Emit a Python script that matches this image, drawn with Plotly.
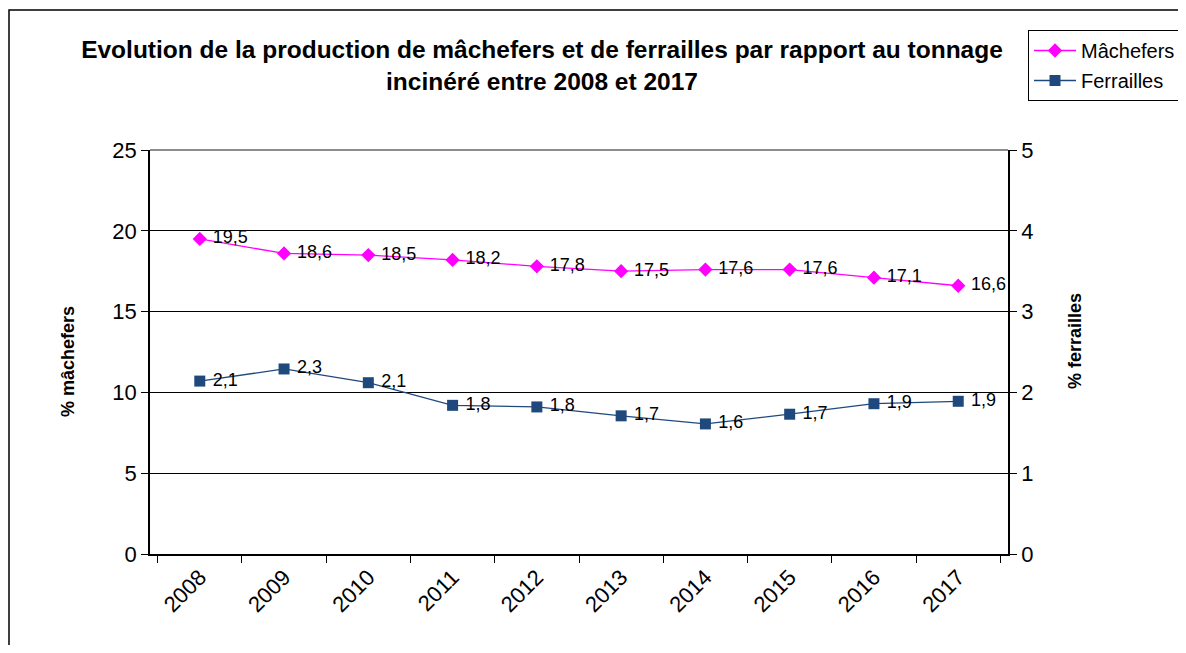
import plotly.graph_objects as go

years = ["2008", "2009", "2010", "2011", "2012", "2013", "2014", "2015", "2016", "2017"]
machefers = [19.5, 18.6, 18.5, 18.2, 17.8, 17.5, 17.6, 17.6, 17.1, 16.6]
ferrailles = [2.14, 2.29, 2.12, 1.84, 1.82, 1.71, 1.61, 1.73, 1.86, 1.89]

def fr(v):
    return "\u00a0" + f"{v:.1f}".replace(".", ",")

PAGE_W, PAGE_H = 1186, 653
OFF = 8  # default page body margin
W, H = PAGE_W - 2 * OFF, PAGE_H - 2 * OFF
# target plot area in page pixels: x 150..1008, y 150..554
L = 150 - OFF
T = 150 - OFF
R = W - (1008 - OFF)
B = H - (554 - OFF)
pw, ph = W - L - R, H - T - B

def px_x(x):
    return (x - OFF - L) / pw

def px_y(y):
    return (H - B - (y - OFF)) / ph

FONT = "Liberation Sans, Arial, sans-serif"

fig = go.Figure()
fig.add_trace(go.Scatter(
    x=years, y=machefers, name="Mâchefers", mode="lines+markers+text",
    legendgroup="a",
    line=dict(color="#FF00FF", width=1.3),
    marker=dict(symbol="diamond", size=11, color="#FF00FF"),
    text=[fr(v) for v in machefers], textposition="middle right",
    textfont=dict(size=18, color="black", family=FONT),
    yaxis="y", cliponaxis=False,
))
fig.add_trace(go.Scatter(
    x=years, y=ferrailles, name="Ferrailles", mode="lines+markers+text",
    legendgroup="b",
    line=dict(color="#1F497D", width=1.3),
    marker=dict(symbol="square", size=11, color="#1F497D"),
    text=[fr(v) for v in ferrailles], textposition="middle right",
    textfont=dict(size=18, color="black", family=FONT),
    yaxis="y2", cliponaxis=False,
))

fig.update_layout(
    width=W, height=H,
    margin=dict(l=L, r=R, t=T, b=B, autoexpand=False),
    paper_bgcolor="white", plot_bgcolor="white",
    font=dict(family=FONT, color="black"),
    title=dict(
        text="Evolution de la production de mâchefers et de ferrailles par rapport au tonnage<br>incinéré entre 2008 et 2017",
        font=dict(size=24.5, family=FONT, weight="bold", color="black"),
        x=px_x(542), xref="paper", xanchor="center",
        y=1 - 50 / H, yref="container", yanchor="middle",
    ),
    xaxis=dict(
        type="category", tickson="boundaries", ticks="outside", ticklen=7,
        tickcolor="black", showline=True, linecolor="black", linewidth=1.5,
        tickangle=-45, tickfont=dict(size=22), showgrid=False, zeroline=False,
    ),
    yaxis=dict(
        range=[0, 25], dtick=5, ticks="outside", ticklen=7, tickcolor="black",
        showline=True, linecolor="black", linewidth=1.5,
        showgrid=True, gridcolor="black", gridwidth=1.2, zeroline=False,
        tickfont=dict(size=22),
    ),
    yaxis2=dict(
        range=[0, 5], dtick=1, overlaying="y", side="right", ticks="outside",
        ticklen=7, tickcolor="black", showline=True, linecolor="black",
        linewidth=1.5, showgrid=False, zeroline=False, tickfont=dict(size=22),
    ),
    legend=dict(
        x=px_x(1028), y=px_y(30), xanchor="left", yanchor="top",
        bordercolor="black", borderwidth=1, bgcolor="white",
        font=dict(size=20), traceorder="grouped", tracegroupgap=1,
        itemwidth=42,
    ),
    showlegend=True,
    annotations=[
        dict(text="<b>% mâchefers</b>", textangle=-90, xref="paper", yref="paper",
             x=px_x(68), y=px_y(362), showarrow=False, font=dict(size=18),
             xanchor="center", yanchor="middle"),
        dict(text="<b>% ferrailles</b>", textangle=-90, xref="paper", yref="paper",
             x=px_x(1075), y=px_y(341), showarrow=False, font=dict(size=18),
             xanchor="center", yanchor="middle"),
    ],
    shapes=[
        dict(type="rect", xref="paper", yref="paper",
             x0=px_x(9), x1=px_x(PAGE_W + 40), y0=px_y(PAGE_H + 40), y1=px_y(10),
             line=dict(color="black", width=1.5), fillcolor="rgba(0,0,0,0)",
             layer="below"),
        dict(type="line", xref="paper", yref="paper", x0=0, x1=1, y0=1, y1=1,
             line=dict(color="#8C8C8C", width=2), layer="above"),
    ],
)

fig.write_html("out.html")
